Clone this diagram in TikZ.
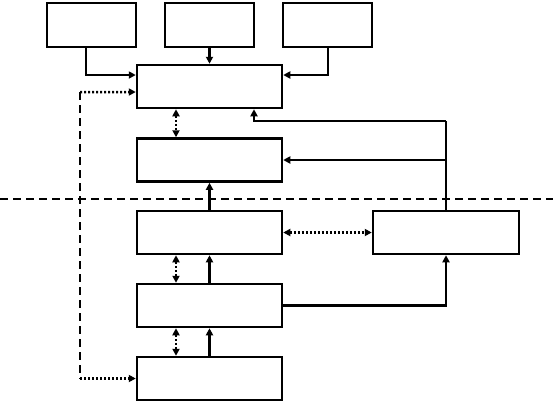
\documentclass[tikz,border=0pt]{standalone}
\usetikzlibrary{arrows.meta,calc}
\begin{document}
\begin{tikzpicture}[x=1bp,y=-1bp,
  box/.style={draw,line width=2.5bp,minimum width=145bp,minimum height=43bp,inner sep=0pt},
  sbox/.style={draw,line width=2.5bp,minimum width=89bp,minimum height=44bp,inner sep=0pt},
  conn/.style={line width=2.5bp},
  arr/.style={conn,-{Triangle[length=7bp,width=7bp]}},
  darr/.style={conn,{Triangle[length=7bp,width=7bp]}-{Triangle[length=7bp,width=7bp]}},
  dots/.style={dash pattern=on 2bp off 2bp},
  dashes/.style={dash pattern=on 8bp off 5bp}]
\useasboundingbox (0,0) rectangle (553,403);
% top boxes
\node[sbox] (b1) at (91.5,25) {};
\node[sbox] (b2) at (209.5,25) {};
\node[sbox] (b3) at (327.5,25) {};
% column boxes
\node[box] (A) at (209.5,86.5) {};
\node[box] (B) at (209.5,160) {};
\node[box] (C) at (209.5,232.5) {};
\node[box] (D) at (209.5,305.5) {};
\node[box] (E) at (209.5,378.5) {};
\node[box,minimum width=146bp] (F) at (446,232.5) {};
% divider
\coordinate (dl) at (0,199);
\coordinate (dr) at (553,199);
\draw[conn,dashes] (dl) -- (dr);
% top inputs
\draw[arr] ([xshift=-5.5bp]b1.south) |- ([yshift=11.5bp]A.west);
\draw[arr] (b2.south) -- (A.north);
\draw[arr] ([xshift=0.5bp]b3.south) |- ([yshift=11.5bp]A.east);
% left dashed feedback
\coordinate (c1) at (80,92);
\coordinate (c2) at (80,378.5);
\draw[arr,dots] (c1) -- ([yshift=-5.5bp]A.west);
\draw[conn,dashes] (c1) -- (c2);
\draw[arr,dots] (c2) -- (E.west);
% dotted double arrows in column
\draw[darr,dots] ([xshift=-33.5bp]A.south) -- ([xshift=-33.5bp]B.north);
\draw[darr,dots] ([xshift=-33.5bp]C.south) -- ([xshift=-33.5bp]D.north);
\draw[darr,dots] ([xshift=-33.5bp]D.south) -- ([xshift=-33.5bp]E.north);
% solid upward arrows
\draw[arr] (C.north) -- (B.south);
\draw[arr] (D.north) -- (C.south);
\draw[arr] (E.north) -- (D.south);
% right side
\coordinate (t) at (446,121);
\draw[line width=2.8bp] (F.north) -- (t);
\draw[arr] (t) -| ([xshift=44.5bp]A.south);
\draw[arr] (F.north |- B.east) -- (B.east);
\draw[darr,dots] (C.east) -- (F.west);
\draw[arr] (D.east) -| (F.south);
\end{tikzpicture}
\end{document}
